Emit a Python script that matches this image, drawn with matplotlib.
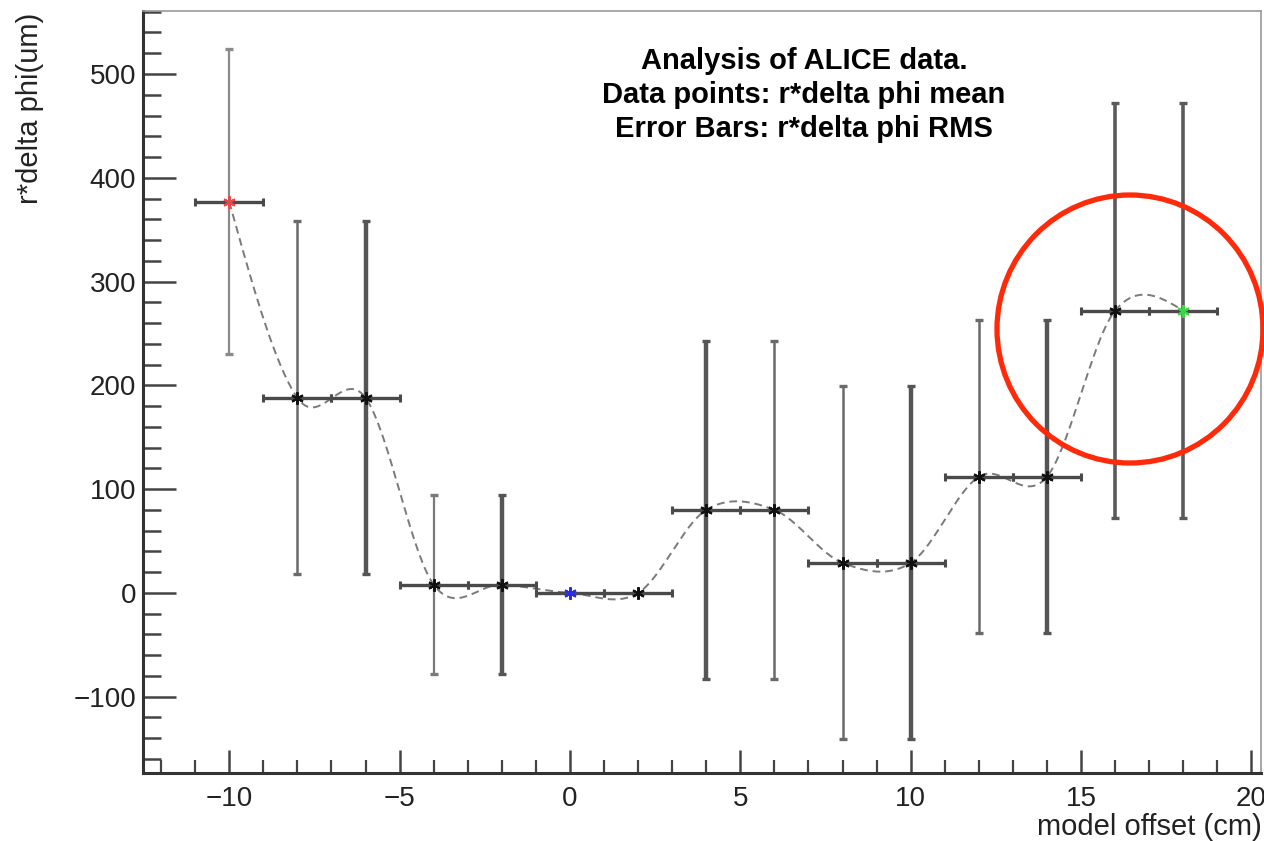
import numpy as np
import matplotlib
matplotlib.use("Agg")
import matplotlib.pyplot as plt
from matplotlib.patches import Ellipse

plt.rcParams['font.family'] = ['Liberation Sans', 'DejaVu Sans']

# ---- data ----
offsets = [-10, -8, -6, -4, -2, 0, 2, 4, 6, 8, 10, 12, 14, 16, 18]
mean_vals = [377, 188, 188, 8, 8, 0, 0, 80, 80, 29, 29, 112, 112, 272, 272]
rms_vals = [147, 170, 170, 86, 86, 0, 0, 163, 163, 170, 170, 151, 151, 200, 200]
x_half_width = [1] * 15
marker_colors = ['#e8474b'] + ['#111111'] * 4 + ['#2a2ae8'] + ['#111111'] * 8 + ['#3fd44a']
title_lines = ["Analysis of ALICE data.",
               "Data points: r*delta phi mean",
               "Error Bars: r*delta phi RMS"]
x_label = "model offset (cm)"
y_label = "r*delta phi(um)"
x_ticks = [-10, -5, 0, 5, 10, 15, 20]
y_ticks = [-100, 0, 100, 200, 300, 400, 500]

# style per point (vertical bar thickness)
vbar_lw = [1.6, 1.8, 3.2, 1.6, 3.2, 0, 0, 3.2, 1.8, 1.8, 3.2, 1.8, 3.2, 2.6, 2.6]
vbar_col = ['#8a8a8a', '#6a6a6a', '#555555', '#7a7a7a', '#555555', '#555', '#555',
            '#555555', '#6a6a6a', '#6a6a6a', '#555555', '#6a6a6a', '#555555', '#5a5a5a', '#5a5a5a']

W, H = 1264, 841
fig = plt.figure(figsize=(W / 100, H / 100), dpi=100)
ax = fig.add_axes([143 / W, 1 - 773 / H, (1261 - 143) / W, (773 - 11) / H])

x = np.array(offsets, float)
y = np.array(mean_vals, float)


def smooth_curve(xs, ys, per_seg=60):
    """Cubic Hermite (Catmull-Rom style) curve through the points."""
    n = len(xs)
    m = np.zeros(n)
    for i in range(1, n - 1):
        m[i] = (ys[i + 1] - ys[i - 1]) / (xs[i + 1] - xs[i - 1])
    m[0] = 1.5 * (ys[1] - ys[0]) / (xs[1] - xs[0]) - 0.5 * m[1]
    m[-1] = 1.5 * (ys[-1] - ys[-2]) / (xs[-1] - xs[-2]) - 0.5 * m[-2]
    px, py = [], []
    for i in range(n - 1):
        h = xs[i + 1] - xs[i]
        t = np.linspace(0, 1, per_seg, endpoint=(i == n - 2))
        h00 = 2 * t ** 3 - 3 * t ** 2 + 1
        h10 = t ** 3 - 2 * t ** 2 + t
        h01 = -2 * t ** 3 + 3 * t ** 2
        h11 = t ** 3 - t ** 2
        px.append(xs[i] + t * h)
        py.append(h00 * ys[i] + h10 * h * m[i] + h01 * ys[i + 1] + h11 * h * m[i + 1])
    return np.concatenate(px), np.concatenate(py)


cx, cy = smooth_curve(x, y)
ax.plot(cx, cy, color='#7a7a7a', lw=1.4, dashes=(4, 2.5), zorder=2)

for i in range(len(x)):
    ax.errorbar(x[i], y[i], xerr=x_half_width[i], fmt='none', ecolor='#4a4a4a',
                elinewidth=2.4, capsize=3, capthick=2.2, zorder=3)
    if rms_vals[i] > 0:
        ax.errorbar(x[i], y[i], yerr=rms_vals[i], fmt='none', ecolor=vbar_col[i],
                    elinewidth=vbar_lw[i], capsize=3, capthick=2.4, zorder=3)
    ax.plot(x[i], y[i], marker=(6, 2, 0), ms=9, mew=1.5, color=marker_colors[i],
            linestyle='none', zorder=4)

ax.set_xlim(-12.53, 20.28)
ax.set_ylim(-173.5, 560.7)

ax.set_xticks(x_ticks)
ax.set_yticks(y_ticks)
ax.xaxis.set_minor_locator(matplotlib.ticker.MultipleLocator(1))
ax.yaxis.set_minor_locator(matplotlib.ticker.MultipleLocator(20))
ax.tick_params(axis='x', which='major', direction='in', length=16.5, width=1.8,
               color='#444444', labelsize=20, labelcolor='#222222', pad=9,
               top=False)
ax.tick_params(axis='x', which='minor', direction='in', length=9.5, width=1.6,
               color='#444444', top=False)
ax.tick_params(axis='y', which='major', direction='in', length=24, width=1.8,
               color='#444444', labelsize=20, labelcolor='#222222', pad=5,
               right=False)
ax.tick_params(axis='y', which='minor', direction='in', length=13, width=1.8,
               color='#444444', right=False)

for side in ['left', 'bottom']:
    ax.spines[side].set_linewidth(2.2)
    ax.spines[side].set_color('#333333')
for side in ['top', 'right']:
    ax.spines[side].set_linewidth(1.2)
    ax.spines[side].set_color('#999999')

fig.text(1262 / W, 1 - 827 / H, x_label, ha='right', va='center', fontsize=21,
         color='#222222')
fig.text(30 / W, 1 - 13 / H, y_label, ha='center', va='top', rotation=90,
         fontsize=21, color='#222222')

fig.text(804 / W, 1 - 95 / H, "\n".join(title_lines), ha='center', va='center',
         fontsize=21, fontweight='bold', linespacing=1.26, color='black')

fig.add_artist(Ellipse((1130 / W, 1 - 329 / H), 266 / W, 268 / H, transform=fig.transFigure,
                       fill=False, edgecolor='#ff2a0a', lw=3.8, zorder=10))

fig.savefig('out.png', dpi=100)
